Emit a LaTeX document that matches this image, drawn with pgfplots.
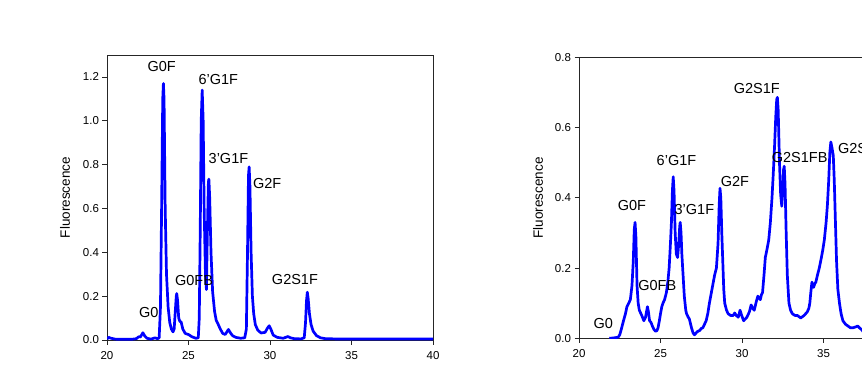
\documentclass[border=0pt]{standalone}
\usepackage{fontspec}
\setmainfont{Liberation Sans}
\usepackage{pgfplots}
\pgfplotsset{compat=1.18}
\definecolor{curve}{RGB}{0,0,255}
\pgfplotsset{chrom/.style={
  scale only axis, width=326pt,
  xmin=20, xmax=40, ymin=0,
  axis line style={black!85, line width=0.8pt},
  tick align=outside, xtick pos=left, ytick pos=left,
  major tick length=4.5pt,
  tick style={black!85, line width=0.8pt},
  xtick={20,25,30,35,40},
  ticklabel style={font=\fontsize{11.5}{13}\selectfont},
  xticklabel style={yshift=-3pt},
  /pgf/number format/assume math mode=true,
  yticklabel style={/pgf/number format/.cd, fixed, fixed zerofill, precision=1},
  ylabel={Fluorescence},
  no markers,
}}
\pgfplotsset{curvestyle/.style={color=curve, line width=2.7pt, line join=round, mark=none}}
\newcommand{\lab}{\fontsize{14.5}{17}\selectfont}
\begin{document}
\begin{tikzpicture}
\path[use as bounding box, clip] (0,0) rectangle (862pt,370pt);
% ---------------- left panel ----------------
\begin{axis}[chrom, at={(107pt,30pt)}, anchor=south west, height=285pt,
  ymax=1.3, ytick={0,0.2,0.4,0.6,0.8,1.0,1.2},
  every axis y label/.style={at={(axis description cs:-0.129,0.5)}, rotate=90, anchor=center, font=\fontsize{13.5}{16}\selectfont}]
\addplot[curvestyle] coordinates {
(20.0,0.005) (20.1,0.012) (20.25,0.008) (20.5,0.004) (21.0,0.003) (21.5,0.003)
(21.8,0.006) (21.95,0.015) (22.05,0.014) (22.2,0.033) (22.3,0.02) (22.45,0.008)
(22.7,0.004) (22.95,0.01) (23.1,0.006) (23.2,0.01) (23.28,0.15) (23.35,0.6)
(23.42,1.1) (23.46,1.17) (23.5,1.1) (23.57,0.6) (23.65,0.3) (23.75,0.15)
(23.85,0.08) (23.95,0.05) (24.05,0.037) (24.12,0.05) (24.18,0.12) (24.25,0.2)
(24.28,0.212) (24.33,0.18) (24.4,0.1) (24.47,0.085) (24.55,0.082) (24.65,0.05)
(24.8,0.03) (25.0,0.025) (25.2,0.015) (25.45,0.008) (25.6,0.01) (25.66,0.1)
(25.72,0.5) (25.78,1.0) (25.84,1.14) (25.9,1.0) (25.96,0.6) (26.04,0.3)
(26.1,0.23) (26.16,0.5) (26.22,0.72) (26.25,0.734) (26.3,0.65) (26.38,0.4)
(26.48,0.22) (26.6,0.13) (26.7,0.09) (26.8,0.075) (26.95,0.05) (27.1,0.03)
(27.25,0.025) (27.38,0.04) (27.45,0.048) (27.55,0.035) (27.7,0.02) (27.9,0.012)
(28.2,0.008) (28.45,0.01) (28.55,0.05) (28.62,0.4) (28.68,0.75) (28.72,0.79)
(28.77,0.7) (28.84,0.4) (28.92,0.2) (29.0,0.12) (29.1,0.07) (29.25,0.045)
(29.45,0.032) (29.7,0.035) (29.85,0.055) (29.95,0.065) (30.05,0.05) (30.2,0.022)
(30.45,0.012) (30.8,0.008) (31.0,0.013) (31.1,0.016) (31.25,0.01) (31.5,0.006)
(31.9,0.005) (32.1,0.01) (32.18,0.08) (32.24,0.18) (32.29,0.218) (32.34,0.19)
(32.42,0.12) (32.52,0.07) (32.65,0.04) (32.85,0.02) (33.1,0.01) (33.4,0.006)
(34.0,0.005) (36.0,0.005) (38.0,0.005) (40.0,0.005)
};
\node[font=\lab] at (axis cs:23.35,1.249) {G0F};
\node[font=\lab] at (axis cs:26.83,1.188) {6'G1F};
\node[font=\lab] at (axis cs:27.45,0.830) {3'G1F};
\node[font=\lab] at (axis cs:29.83,0.716) {G2F};
\node[font=\lab] at (axis cs:25.34,0.271) {G0FB};
\node[font=\lab] at (axis cs:22.56,0.125) {G0};
\node[font=\lab] at (axis cs:31.53,0.274) {G2S1F};
\end{axis}
% ---------------- right panel ----------------
\begin{axis}[chrom, at={(579pt,31.7pt)}, anchor=south west, height=281pt,
  ymax=0.8, ytick={0,0.2,0.4,0.6,0.8},
  every axis y label/.style={at={(axis description cs:-0.126,0.5)}, rotate=90, anchor=center, font=\fontsize{13.5}{16}\selectfont}]
\addplot[curvestyle] coordinates {
(21.86,0.0) (22.1,0.001) (22.4,0.003) (22.5,0.01) (22.62,0.03) (22.73,0.05)
(22.85,0.07) (22.94,0.09) (23.05,0.1) (23.15,0.11) (23.25,0.15) (23.33,0.22)
(23.39,0.31) (23.44,0.33) (23.49,0.29) (23.56,0.15) (23.63,0.1) (23.7,0.08)
(23.85,0.065) (23.98,0.05) (24.08,0.06) (24.2,0.09) (24.26,0.075) (24.33,0.05)
(24.42,0.045) (24.5,0.035) (24.6,0.025) (24.7,0.02) (24.78,0.022) (24.85,0.03)
(24.93,0.05) (25.0,0.07) (25.08,0.09) (25.15,0.1) (25.25,0.11) (25.36,0.13)
(25.45,0.16) (25.53,0.2) (25.61,0.27) (25.67,0.33) (25.73,0.42) (25.78,0.46)
(25.83,0.42) (25.9,0.3) (25.97,0.24) (26.05,0.23) (26.12,0.27) (26.18,0.32)
(26.21,0.33) (26.26,0.3) (26.31,0.24) (26.36,0.2) (26.46,0.12) (26.55,0.08)
(26.6,0.07) (26.7,0.06) (26.77,0.055) (26.9,0.03) (27.0,0.015) (27.08,0.01)
(27.18,0.015) (27.29,0.02) (27.4,0.022) (27.5,0.028) (27.6,0.03) (27.7,0.04)
(27.8,0.05) (27.9,0.07) (28.0,0.1) (28.1,0.125) (28.2,0.15) (28.32,0.18)
(28.43,0.2) (28.53,0.27) (28.6,0.38) (28.65,0.427) (28.7,0.4) (28.76,0.3)
(28.82,0.22) (28.88,0.14) (28.94,0.1) (29.05,0.08) (29.15,0.07) (29.3,0.065)
(29.46,0.065) (29.55,0.072) (29.65,0.065) (29.77,0.06) (29.88,0.08) (29.98,0.065)
(30.1,0.05) (30.2,0.055) (30.3,0.06) (30.45,0.075) (30.56,0.095) (30.66,0.085)
(30.75,0.08) (30.88,0.105) (30.97,0.12) (31.05,0.115) (31.12,0.11) (31.2,0.125)
(31.26,0.13) (31.35,0.18) (31.43,0.23) (31.54,0.255) (31.64,0.28) (31.74,0.33)
(31.84,0.4) (31.92,0.47) (32.0,0.55) (32.07,0.63) (32.13,0.68) (32.17,0.686)
(32.22,0.65) (32.3,0.5) (32.37,0.41) (32.44,0.376) (32.5,0.42) (32.55,0.48)
(32.59,0.49) (32.64,0.44) (32.71,0.3) (32.78,0.18) (32.88,0.1) (32.98,0.08)
(33.09,0.07) (33.25,0.065) (33.4,0.065) (33.6,0.058) (33.81,0.065) (34.0,0.075)
(34.1,0.085) (34.16,0.1) (34.22,0.13) (34.29,0.16) (34.34,0.15) (34.39,0.145)
(34.46,0.155) (34.53,0.16) (34.63,0.18) (34.74,0.2) (34.85,0.225) (34.95,0.25)
(35.05,0.28) (35.16,0.33) (35.24,0.38) (35.32,0.45) (35.39,0.53) (35.45,0.559)
(35.53,0.54) (35.6,0.52) (35.66,0.45) (35.72,0.35) (35.8,0.22) (35.88,0.14)
(35.98,0.1) (36.08,0.07) (36.19,0.05) (36.35,0.04) (36.5,0.035) (36.65,0.03)
(36.81,0.03) (36.95,0.032) (37.1,0.035) (37.2,0.03) (37.33,0.025) (37.5,0.015)
(37.7,0.012) (38.0,0.01) (38.5,0.01) (39.0,0.008) (40.0,0.008)
};
\node[font=\lab] at (axis cs:30.91,0.711) {G2S1F};
\node[font=\lab] at (axis cs:25.98,0.505) {6'G1F};
\node[font=\lab] at (axis cs:33.54,0.514) {G2S1FB};
\node[font=\lab, anchor=west, inner sep=0pt] at (axis cs:35.88,0.54) {G2S2F};
\node[font=\lab] at (axis cs:29.57,0.445) {G2F};
\node[font=\lab] at (axis cs:23.25,0.378) {G0F};
\node[font=\lab] at (axis cs:27.08,0.367) {3'G1F};
\node[font=\lab] at (axis cs:24.8,0.15) {G0FB};
\node[font=\lab] at (axis cs:21.49,0.043) {G0};
\end{axis}
\end{tikzpicture}
\end{document}
